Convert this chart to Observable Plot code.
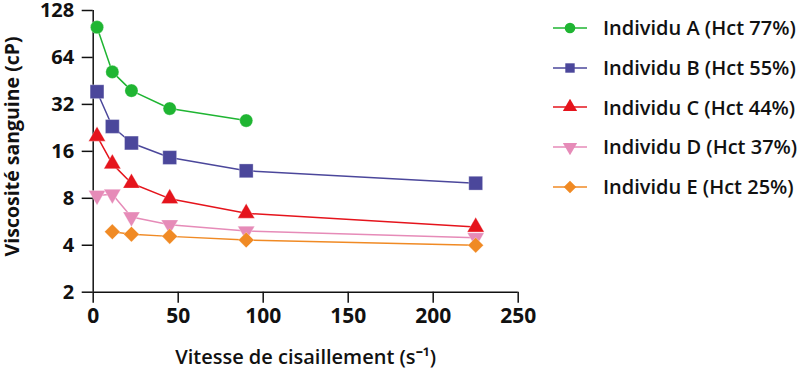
<!DOCTYPE html>
<html><head><meta charset="utf-8">
<script src="https://cdn.jsdelivr.net/npm/d3@7"></script>
<script src="https://cdn.jsdelivr.net/npm/@observablehq/plot@0.6"></script>
<style>
body{margin:0;background:#fff;font-family:"Open Sans",sans-serif;}
#wrap{position:relative;width:800px;height:368px;}
#legend{position:absolute;left:553px;top:8px;}
.row{display:flex;align-items:center;height:39.7px;font-size:20px;font-weight:600;color:#111;white-space:nowrap;}
.row svg{margin-right:16px;}
</style></head>
<body><div id="wrap"><div id="chart"></div><div id="legend"></div></div>
<script>
const shearRates = [2.25, 11.25, 22.5, 45, 90, 225];
const seriesNames = ["Individu A (Hct 77%)","Individu B (Hct 55%)","Individu C (Hct 44%)","Individu D (Hct 37%)","Individu E (Hct 25%)"];
const valuesA = [100, 51.7, 39.2, 30.1, 25.2, null];
const valuesB = [38.6, 23.1, 18.1, 14.6, 12.0, 10.0];
const valuesC = [20.0, 13.3, 10.0, 7.96, 6.41, 5.23];
const valuesD = [8.35, 8.5, 6.07, 5.41, 4.93, 4.47];
const valuesE = [null, 4.88, 4.70, 4.56, 4.32, 4.0];
const colors = ["#1fb532","#4b479b","#e5141c","#e68bb8","#f08a24"];
const symbols = ["circle","square","triangle","triangle","diamond2"];
const rotations = [0,0,0,180,0];
const radii = [6.6,7.8,6.3,6.3,7.0];
const yTicks = [2,4,8,16,32,64,128];
const xTicks = [0,50,100,150,200,250];

const all = [valuesA,valuesB,valuesC,valuesD,valuesE];
const data = [];
all.forEach((vals,i)=>vals.forEach((v,j)=>{ if(v!=null) data.push({series:seriesNames[i], idx:i, x:shearRates[j], y:v}); }));

const font = "'Open Sans', sans-serif";
const chart = Plot.plot({
  width: 800, height: 368,
  marginLeft: 92.7, marginRight: 282.3, marginTop: 10, marginBottom: 76.3,
  style: {fontFamily: font, fontSize: "20px", color: "#111", background: "transparent", overflow: "visible"},
  x: {domain:[0,250], ticks: xTicks, label: null},
  y: {type:"log", base:2, domain:[2,128], ticks: yTicks, tickFormat: d=>String(d), label:null},
  color: {domain: seriesNames, range: colors},
  marks: [
    Plot.axisX({ticks: xTicks, tickSize: 11, tickPadding: 5, fontWeight: 700, fontSize: 21, stroke:"#111", strokeWidth:1.5, strokeOpacity:1}),
    Plot.axisY({ticks: yTicks, tickSize: 11, tickPadding: 8, fontWeight: 700, fontSize: 20, stroke:"#111", strokeWidth:1.5, strokeOpacity:1, tickFormat: d=>String(d)}),
    Plot.ruleX([0], {y1: 2, y2: 128, stroke:"#111", strokeWidth:1.5}),
    Plot.ruleY([2], {x1: 0, x2: 250, stroke:"#111", strokeWidth:1.5}),
    Plot.line(data, {x:"x", y:"y", z:"series", stroke:"series", strokeWidth:1.5}),
    ...seriesNames.map((s,i)=>Plot.dot(data.filter(d=>d.idx===i), {x:"x", y:"y", fill: colors[i], stroke:"#fff", strokeWidth:0.6, strokeOpacity:0.5, symbol: symbols[i], r: radii[i], rotate: rotations[i]})),
    Plot.text(["Viscosité sanguine (cP)"], {frameAnchor:"left", dx:-80, dy:-5, rotate:-90, textAnchor:"middle", lineAnchor:"middle", fontWeight:700, fontSize:19.5, fill:"#111"}),
    Plot.text(["Vitesse de cisaillement (s⁻¹)"], {frameAnchor:"bottom", dy:65, textAnchor:"middle", lineAnchor:"middle", fontWeight:600, fontSize:20, fill:"#111"})
  ]
});
document.getElementById("chart").appendChild(chart);

const legend = document.getElementById("legend");
seriesNames.forEach((s,i)=>{
  const row = document.createElement("div"); row.className="row";
  const svg = d3.create("svg").attr("width",34).attr("height",16);
  svg.append("line").attr("x1",0).attr("x2",34).attr("y1",8).attr("y2",8).attr("stroke",colors[i]).attr("stroke-width",1.5);
  const symMap = {circle:d3.symbolCircle, square:d3.symbolSquare, triangle:d3.symbolTriangle, diamond2:d3.symbolSquare};
  const rot = symbols[i]==="diamond2" ? 45 : rotations[i];
  const r = i===4 ? 5 : 5.3;
  svg.append("path").attr("d", d3.symbol(symMap[symbols[i]], r*r*Math.PI)()).attr("transform",`translate(17,8) rotate(${rot})`).attr("fill",colors[i]);
  row.appendChild(svg.node());
  const span = document.createElement("span"); span.textContent = s; row.appendChild(span);
  legend.appendChild(row);
});
</script></body></html>
